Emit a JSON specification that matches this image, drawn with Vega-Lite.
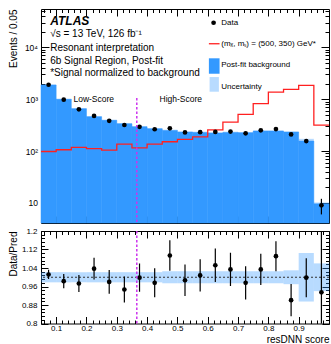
{
  "$schema": "https://vega.github.io/schema/vega-lite/v6.json",
  "padding": {"left": 7, "top": 8, "right": 0, "bottom": 0},
  "spacing": 1,
  "config": {
    "font": "Liberation Sans",
    "view": {"stroke": "black", "strokeWidth": 1},
    "axis": {"domain": false, "tickColor": "black", "labelColor": "black", "titleColor": "black", "grid": false, "labelFont": "Liberation Sans", "titleFont": "Liberation Sans", "titleFontWeight": "normal", "labelFontSize": 8.5, "titleFontSize": 10, "tickWidth": 1, "zindex": 1, "labelOverlap": false}
  },
  "datasets": {
    "bins": [
      {"lo": 0.05, "hi": 0.10, "mid": 0.075, "bkg": 1875, "blo": 1834, "bhi": 1916, "data": 1898, "dlo": 1854, "dhi": 1942, "ratio": 1.012, "rlo": 0.992, "rhi": 1.032, "ulo": 0.978, "uhi": 1.022},
      {"lo": 0.10, "hi": 0.15, "mid": 0.125, "bkg": 994, "blo": 972, "bhi": 1016, "data": 977, "dlo": 946, "dhi": 1008, "ratio": 0.983, "rlo": 0.952, "rhi": 1.014, "ulo": 0.978, "uhi": 1.022},
      {"lo": 0.15, "hi": 0.20, "mid": 0.175, "bkg": 655, "blo": 641, "bhi": 669, "data": 637, "dlo": 612, "dhi": 662, "ratio": 0.973, "rlo": 0.936, "rhi": 1.010, "ulo": 0.978, "uhi": 1.022},
      {"lo": 0.20, "hi": 0.25, "mid": 0.225, "bkg": 459, "blo": 449, "bhi": 469, "data": 476, "dlo": 454, "dhi": 498, "ratio": 1.037, "rlo": 0.990, "rhi": 1.084, "ulo": 0.978, "uhi": 1.022},
      {"lo": 0.25, "hi": 0.30, "mid": 0.275, "bkg": 391, "blo": 382, "bhi": 400, "data": 383, "dlo": 363, "dhi": 403, "ratio": 0.980, "rlo": 0.929, "rhi": 1.031, "ulo": 0.978, "uhi": 1.022},
      {"lo": 0.30, "hi": 0.35, "mid": 0.325, "bkg": 336, "blo": 329, "bhi": 343, "data": 318, "dlo": 300, "dhi": 336, "ratio": 0.947, "rlo": 0.891, "rhi": 1.003, "ulo": 0.978, "uhi": 1.022},
      {"lo": 0.35, "hi": 0.40, "mid": 0.375, "bkg": 294, "blo": 288, "bhi": 300, "data": 293, "dlo": 276, "dhi": 310, "ratio": 0.998, "rlo": 0.937, "rhi": 1.059, "ulo": 0.978, "uhi": 1.022},
      {"lo": 0.40, "hi": 0.45, "mid": 0.425, "bkg": 269, "blo": 263, "bhi": 275, "data": 263, "dlo": 247, "dhi": 279, "ratio": 0.976, "rlo": 0.913, "rhi": 1.039, "ulo": 0.978, "uhi": 1.022},
      {"lo": 0.45, "hi": 0.50, "mid": 0.475, "bkg": 250, "blo": 244, "bhi": 257, "data": 274, "dlo": 257, "dhi": 291, "ratio": 1.094, "rlo": 1.028, "rhi": 1.160, "ulo": 0.974, "uhi": 1.026},
      {"lo": 0.50, "hi": 0.55, "mid": 0.525, "bkg": 232, "blo": 226, "bhi": 238, "data": 229, "dlo": 214, "dhi": 244, "ratio": 0.987, "rlo": 0.919, "rhi": 1.055, "ulo": 0.974, "uhi": 1.026},
      {"lo": 0.55, "hi": 0.60, "mid": 0.575, "bkg": 229, "blo": 223, "bhi": 235, "data": 231, "dlo": 216, "dhi": 246, "ratio": 1.008, "rlo": 0.938, "rhi": 1.078, "ulo": 0.974, "uhi": 1.026},
      {"lo": 0.60, "hi": 0.65, "mid": 0.625, "bkg": 222, "blo": 216, "bhi": 228, "data": 234, "dlo": 219, "dhi": 249, "ratio": 1.052, "rlo": 0.980, "rhi": 1.124, "ulo": 0.974, "uhi": 1.026},
      {"lo": 0.65, "hi": 0.70, "mid": 0.675, "bkg": 229, "blo": 223, "bhi": 235, "data": 237, "dlo": 222, "dhi": 252, "ratio": 1.034, "rlo": 0.962, "rhi": 1.106, "ulo": 0.974, "uhi": 1.026},
      {"lo": 0.70, "hi": 0.75, "mid": 0.725, "bkg": 225, "blo": 219, "bhi": 231, "data": 220, "dlo": 205, "dhi": 235, "ratio": 0.976, "rlo": 0.904, "rhi": 1.048, "ulo": 0.974, "uhi": 1.026},
      {"lo": 0.75, "hi": 0.80, "mid": 0.775, "bkg": 243, "blo": 237, "bhi": 249, "data": 251, "dlo": 235, "dhi": 267, "ratio": 1.034, "rlo": 0.966, "rhi": 1.102, "ulo": 0.974, "uhi": 1.026},
      {"lo": 0.80, "hi": 0.85, "mid": 0.825, "bkg": 243, "blo": 237, "bhi": 249, "data": 265, "dlo": 249, "dhi": 281, "ratio": 1.091, "rlo": 1.026, "rhi": 1.156, "ulo": 0.974, "uhi": 1.026},
      {"lo": 0.85, "hi": 0.90, "mid": 0.875, "bkg": 232, "blo": 226, "bhi": 238, "data": 209, "dlo": 194, "dhi": 224, "ratio": 0.901, "rlo": 0.831, "rhi": 0.971, "ulo": 0.970, "uhi": 1.030},
      {"lo": 0.90, "hi": 0.95, "mid": 0.925, "bkg": 156, "blo": 140, "bhi": 172, "data": 156, "dlo": 143, "dhi": 168, "ratio": 0.998, "rlo": 0.914, "rhi": 1.082, "ulo": 0.895, "uhi": 1.105},
      {"lo": 0.95, "hi": 1.00, "mid": 0.975, "bkg": 9.6, "blo": 9.0, "bhi": 10.2, "data": 9, "dlo": 6, "dhi": 12, "ratio": 0.935, "rlo": 0.585, "rhi": 1.285, "ulo": 0.94, "uhi": 1.06}
    ],
    "sig": [
      {"x": 0.05, "sig": 98}, {"x": 0.10, "sig": 106}, {"x": 0.15, "sig": 118}, {"x": 0.20, "sig": 111},
      {"x": 0.25, "sig": 104}, {"x": 0.30, "sig": 136}, {"x": 0.35, "sig": 115}, {"x": 0.40, "sig": 136},
      {"x": 0.45, "sig": 151}, {"x": 0.50, "sig": 168}, {"x": 0.55, "sig": 187}, {"x": 0.60, "sig": 255},
      {"x": 0.65, "sig": 360}, {"x": 0.70, "sig": 508}, {"x": 0.75, "sig": 820}, {"x": 0.80, "sig": 1370},
      {"x": 0.85, "sig": 1550}, {"x": 0.90, "sig": 1850}, {"x": 0.95, "sig": 317}, {"x": 1.00, "sig": 317}
    ]
  },
  "vconcat": [
    {
      "width": 288,
      "height": 214,
      "resolve": {"axis": {"x": "independent", "y": "independent"}},
      "layer": [
        {
          "data": {"name": "bins"},
          "mark": {"type": "rect", "fill": "#3399ff", "stroke": "#3399ff", "strokeWidth": 0.5},
          "encoding": {
            "x": {"field": "lo", "type": "quantitative", "scale": {"domain": [0.05, 1.0], "nice": false, "zero": false},
              "axis": {"orient": "bottom", "title": null, "labels": false, "values": [0.1,0.2,0.3,0.4,0.5,0.6,0.7,0.8,0.9], "tickSize": 7, "offset": -7}},
            "x2": {"field": "hi"},
            "y": {"field": "bkg", "type": "quantitative", "scale": {"type": "log", "domain": [4.1, 54800], "nice": false},
              "axis": {"orient": "left", "title": "Events / 0.05", "titleAnchor": "end", "titleAlign": "right", "titleAngle": -90, "titleX": -25, "titleY": 0, "titleBaseline": "alphabetic",
                "values": [10, 100, 1000, 10000],
                "labelExpr": "datum.value == 10 ? '10' : datum.value == 100 ? '10²' : datum.value == 1000 ? '10³' : '10⁴'",
                "ticks": false, "labelPadding": 3.5, "labelOverlap": false}},
            "y2": {"datum": 4.1}
          }
        },
        {
          "data": {"name": "bins"},
          "mark": {"type": "rect", "fill": "#3399ff", "opacity": 0.35},
          "encoding": {
            "x": {"field": "lo", "type": "quantitative",
              "axis": {"orient": "bottom", "title": null, "labels": false, "values": [0.06,0.08,0.1,0.12,0.14,0.16,0.18,0.2,0.22,0.24,0.26,0.28,0.3,0.32,0.34,0.36,0.38,0.4,0.42,0.44,0.46,0.48,0.5,0.52,0.54,0.56,0.58,0.6,0.62,0.64,0.66,0.68,0.7,0.72,0.74,0.76,0.78,0.8,0.82,0.84,0.86,0.88,0.9,0.92,0.94,0.96,0.98], "tickSize": 3.5, "offset": -3.5}},
            "x2": {"field": "hi"},
            "y": {"field": "blo", "type": "quantitative",
              "axis": {"orient": "left", "title": null, "labels": false, "values": [10, 100, 1000, 10000], "tickSize": 8, "offset": -8}},
            "y2": {"field": "bhi"}
          }
        },
        {
          "data": {"name": "sig"},
          "mark": {"type": "line", "interpolate": "step-after", "color": "#ff2020", "strokeWidth": 1.3},
          "encoding": {
            "x": {"field": "x", "type": "quantitative",
              "axis": {"orient": "top", "title": null, "labels": false, "values": [0.1,0.2,0.3,0.4,0.5,0.6,0.7,0.8,0.9], "tickSize": 7, "offset": -7}},
            "y": {"field": "sig", "type": "quantitative",
              "axis": {"orient": "left", "title": null, "labels": false, "values": [5,6,7,8,9,20,30,40,50,60,70,80,90,200,300,400,500,600,700,800,900,2000,3000,4000,5000,6000,7000,8000,9000,20000,30000,40000,50000], "tickSize": 4, "offset": -4}}
          }
        },
        {
          "data": {"name": "bins"},
          "mark": {"type": "rule", "color": "black", "strokeWidth": 1.2},
          "encoding": {
            "x": {"field": "mid", "type": "quantitative",
              "axis": {"orient": "top", "title": null, "labels": false, "values": [0.06,0.08,0.1,0.12,0.14,0.16,0.18,0.2,0.22,0.24,0.26,0.28,0.3,0.32,0.34,0.36,0.38,0.4,0.42,0.44,0.46,0.48,0.5,0.52,0.54,0.56,0.58,0.6,0.62,0.64,0.66,0.68,0.7,0.72,0.74,0.76,0.78,0.8,0.82,0.84,0.86,0.88,0.9,0.92,0.94,0.96,0.98], "tickSize": 3.5, "offset": -3.5}},
            "y": {"field": "dlo", "type": "quantitative",
              "axis": {"orient": "right", "title": null, "labels": false, "values": [10, 100, 1000, 10000], "tickSize": 8, "offset": -8}},
            "y2": {"field": "dhi"}
          }
        },
        {
          "data": {"name": "bins"},
          "mark": {"type": "circle", "color": "black", "size": 22, "opacity": 1},
          "encoding": {
            "x": {"field": "mid", "type": "quantitative", "axis": null},
            "y": {"field": "data", "type": "quantitative",
              "axis": {"orient": "right", "title": null, "labels": false, "values": [5,6,7,8,9,20,30,40,50,60,70,80,90,200,300,400,500,600,700,800,900,2000,3000,4000,5000,6000,7000,8000,9000,20000,30000,40000,50000], "tickSize": 4, "offset": -4}}
          }
        },
        {
          "data": {"values": [{}]},
          "mark": {"type": "rule", "color": "#cc33ee", "strokeWidth": 1.5, "strokeDash": [2.5, 2]},
          "encoding": {"x": {"datum": 0.366, "axis": null}, "y": {"datum": 1050, "axis": null}, "y2": {"datum": 4.1}}
        },
        {
          "data": {"values": [{}]},
          "mark": {"type": "text", "text": "ATLAS", "fontSize": 12, "fontWeight": "bold", "fontStyle": "italic", "align": "left", "baseline": "middle"},
          "encoding": {"x": {"datum": 0.0804, "axis": null}, "y": {"datum": 32100, "axis": null}}
        },
        {
          "data": {"values": [{}]},
          "mark": {"type": "text", "text": "√s = 13 TeV, 126 fb⁻¹", "fontSize": 10, "align": "left", "baseline": "middle"},
          "encoding": {"x": {"datum": 0.0804, "axis": null}, "y": {"datum": 18070, "axis": null}}
        },
        {
          "data": {"values": [{}]},
          "mark": {"type": "text", "text": "Resonant interpretation", "fontSize": 10, "align": "left", "baseline": "middle"},
          "encoding": {"x": {"datum": 0.0804, "axis": null}, "y": {"datum": 9840, "axis": null}}
        },
        {
          "data": {"values": [{}]},
          "mark": {"type": "text", "text": "6b Signal Region, Post-fit", "fontSize": 10, "align": "left", "baseline": "middle"},
          "encoding": {"x": {"datum": 0.0804, "axis": null}, "y": {"datum": 5445, "axis": null}}
        },
        {
          "data": {"values": [{}]},
          "mark": {"type": "text", "text": "*Signal normalized to background", "fontSize": 10, "align": "left", "baseline": "middle"},
          "encoding": {"x": {"datum": 0.0804, "axis": null}, "y": {"datum": 3237, "axis": null}}
        },
        {
          "data": {"values": [{}]},
          "mark": {"type": "text", "text": "Low-Score", "fontSize": 8.5, "align": "left", "baseline": "middle"},
          "encoding": {"x": {"datum": 0.157, "axis": null}, "y": {"datum": 1020, "axis": null}}
        },
        {
          "data": {"values": [{}]},
          "mark": {"type": "text", "text": "High-Score", "fontSize": 8.5, "align": "left", "baseline": "middle"},
          "encoding": {"x": {"datum": 0.441, "axis": null}, "y": {"datum": 1020, "axis": null}}
        },
        {
          "data": {"values": [{}]},
          "mark": {"type": "circle", "color": "black", "size": 22, "opacity": 1},
          "encoding": {"x": {"datum": 0.6193, "axis": null}, "y": {"datum": 29800, "axis": null}}
        },
        {
          "data": {"values": [{}]},
          "mark": {"type": "text", "text": "Data", "fontSize": 8, "align": "left", "baseline": "middle"},
          "encoding": {"x": {"datum": 0.6447, "axis": null}, "y": {"datum": 29800, "axis": null}}
        },
        {
          "data": {"values": [{}]},
          "mark": {"type": "rule", "color": "#ff2020", "strokeWidth": 1.3},
          "encoding": {"x": {"datum": 0.6038, "axis": null}, "x2": {"datum": 0.639}, "y": {"datum": 11720, "axis": null}}
        },
        {
          "data": {"values": [{}]},
          "mark": {"type": "text", "text": "(mₓ, mₛ) = (500, 350) GeV*", "fontSize": 8, "align": "left", "baseline": "middle"},
          "encoding": {"x": {"datum": 0.6447, "axis": null}, "y": {"datum": 11720, "axis": null}}
        },
        {
          "data": {"values": [{}]},
          "mark": {"type": "rect", "fill": "#3399ff"},
          "encoding": {"x": {"datum": 0.6038, "axis": null}, "x2": {"datum": 0.639}, "y": {"datum": 6140, "axis": null}, "y2": {"datum": 3095}}
        },
        {
          "data": {"values": [{}]},
          "mark": {"type": "text", "text": "Post-fit background", "fontSize": 8, "align": "left", "baseline": "middle"},
          "encoding": {"x": {"datum": 0.6447, "axis": null}, "y": {"datum": 4500, "axis": null}}
        },
        {
          "data": {"values": [{}]},
          "mark": {"type": "rect", "fill": "#3399ff", "opacity": 0.35},
          "encoding": {"x": {"datum": 0.6061, "axis": null}, "x2": {"datum": 0.6368}, "y": {"datum": 2673, "axis": null}, "y2": {"datum": 1393}}
        },
        {
          "data": {"values": [{}]},
          "mark": {"type": "text", "text": "Uncertainty", "fontSize": 8, "align": "left", "baseline": "middle"},
          "encoding": {"x": {"datum": 0.6447, "axis": null}, "y": {"datum": 1714, "axis": null}}
        }
      ]
    },
    {
      "width": 288,
      "height": 92.5,
      "resolve": {"axis": {"x": "independent", "y": "independent"}},
      "layer": [
        {
          "data": {"name": "bins"},
          "mark": {"type": "rect", "fill": "#3399ff", "opacity": 0.35},
          "encoding": {
            "x": {"field": "lo", "type": "quantitative", "scale": {"domain": [0.05, 1.0], "nice": false, "zero": false},
              "axis": {"orient": "bottom", "title": "resDNN score", "titleAnchor": "end", "titleFontSize": 10, "titleY": 11, "titleBaseline": "top",
                "values": [0.1,0.2,0.3,0.4,0.5,0.6,0.7,0.8,0.9], "format": ".1f", "ticks": false, "labelPadding": 1, "labelFontSize": 8, "labelOverlap": false}},
            "x2": {"field": "hi"},
            "y": {"field": "ulo", "type": "quantitative", "scale": {"domain": [0.8, 1.2], "nice": false, "zero": false},
              "axis": {"orient": "left", "title": "Data/Pred", "titleAnchor": "end", "titleAlign": "right", "titleAngle": -90, "titleX": -25, "titleY": 0, "titleBaseline": "alphabetic",
                "values": [0.8, 0.88, 0.96, 1.04, 1.12, 1.2], "format": ".3~g", "ticks": false, "labelPadding": 4, "labelFontSize": 8, "labelOverlap": false}},
            "y2": {"field": "uhi"}
          }
        },
        {
          "data": {"values": [{}]},
          "mark": {"type": "rule", "color": "#333333", "strokeWidth": 1.2, "strokeDash": [2, 2]},
          "encoding": {"y": {"datum": 1, "axis": {"orient": "left", "title": null, "labels": false, "values": [0.8, 0.88, 0.96, 1.04, 1.12, 1.2], "tickSize": 7, "offset": -7}}}
        },
        {
          "data": {"name": "bins"},
          "mark": {"type": "rule", "color": "black", "strokeWidth": 1.2, "clip": true},
          "encoding": {
            "x": {"field": "mid", "type": "quantitative",
              "axis": {"orient": "bottom", "title": null, "labels": false, "values": [0.1,0.2,0.3,0.4,0.5,0.6,0.7,0.8,0.9], "tickSize": 7, "offset": -7}},
            "y": {"field": "rlo", "type": "quantitative",
              "axis": {"orient": "left", "title": null, "labels": false, "values": [0.8,0.816,0.832,0.848,0.864,0.88,0.896,0.912,0.928,0.944,0.96,0.976,0.992,1.008,1.024,1.04,1.056,1.072,1.088,1.104,1.12,1.136,1.152,1.168,1.184,1.2], "tickSize": 3.5, "offset": -3.5}},
            "y2": {"field": "rhi"}
          }
        },
        {
          "data": {"name": "bins"},
          "mark": {"type": "circle", "color": "black", "size": 22, "opacity": 1},
          "encoding": {
            "x": {"field": "mid", "type": "quantitative",
              "axis": {"orient": "bottom", "title": null, "labels": false, "values": [0.06,0.08,0.1,0.12,0.14,0.16,0.18,0.2,0.22,0.24,0.26,0.28,0.3,0.32,0.34,0.36,0.38,0.4,0.42,0.44,0.46,0.48,0.5,0.52,0.54,0.56,0.58,0.6,0.62,0.64,0.66,0.68,0.7,0.72,0.74,0.76,0.78,0.8,0.82,0.84,0.86,0.88,0.9,0.92,0.94,0.96,0.98], "tickSize": 3.5, "offset": -3.5}},
            "y": {"field": "ratio", "type": "quantitative",
              "axis": {"orient": "right", "title": null, "labels": false, "values": [0.8, 0.88, 0.96, 1.04, 1.12, 1.2], "tickSize": 7, "offset": -7}}
          }
        },
        {
          "data": {"values": [{}]},
          "mark": {"type": "rule", "color": "#cc33ee", "strokeWidth": 1.5, "strokeDash": [2.5, 2]},
          "encoding": {"x": {"datum": 0.366, "axis": {"orient": "top", "title": null, "labels": false, "values": [0.1,0.2,0.3,0.4,0.5,0.6,0.7,0.8,0.9], "tickSize": 7, "offset": -7}}}
        },
        {
          "data": {"name": "bins"},
          "mark": {"type": "circle", "opacity": 0, "size": 1},
          "encoding": {
            "x": {"field": "mid", "type": "quantitative",
              "axis": {"orient": "top", "title": null, "labels": false, "values": [0.06,0.08,0.1,0.12,0.14,0.16,0.18,0.2,0.22,0.24,0.26,0.28,0.3,0.32,0.34,0.36,0.38,0.4,0.42,0.44,0.46,0.48,0.5,0.52,0.54,0.56,0.58,0.6,0.62,0.64,0.66,0.68,0.7,0.72,0.74,0.76,0.78,0.8,0.82,0.84,0.86,0.88,0.9,0.92,0.94,0.96,0.98], "tickSize": 3.5, "offset": -3.5}},
            "y": {"field": "ratio", "type": "quantitative",
              "axis": {"orient": "right", "title": null, "labels": false, "values": [0.8,0.816,0.832,0.848,0.864,0.88,0.896,0.912,0.928,0.944,0.96,0.976,0.992,1.008,1.024,1.04,1.056,1.072,1.088,1.104,1.12,1.136,1.152,1.168,1.184,1.2], "tickSize": 3.5, "offset": -3.5}}
          }
        }
      ]
    }
  ]
}
